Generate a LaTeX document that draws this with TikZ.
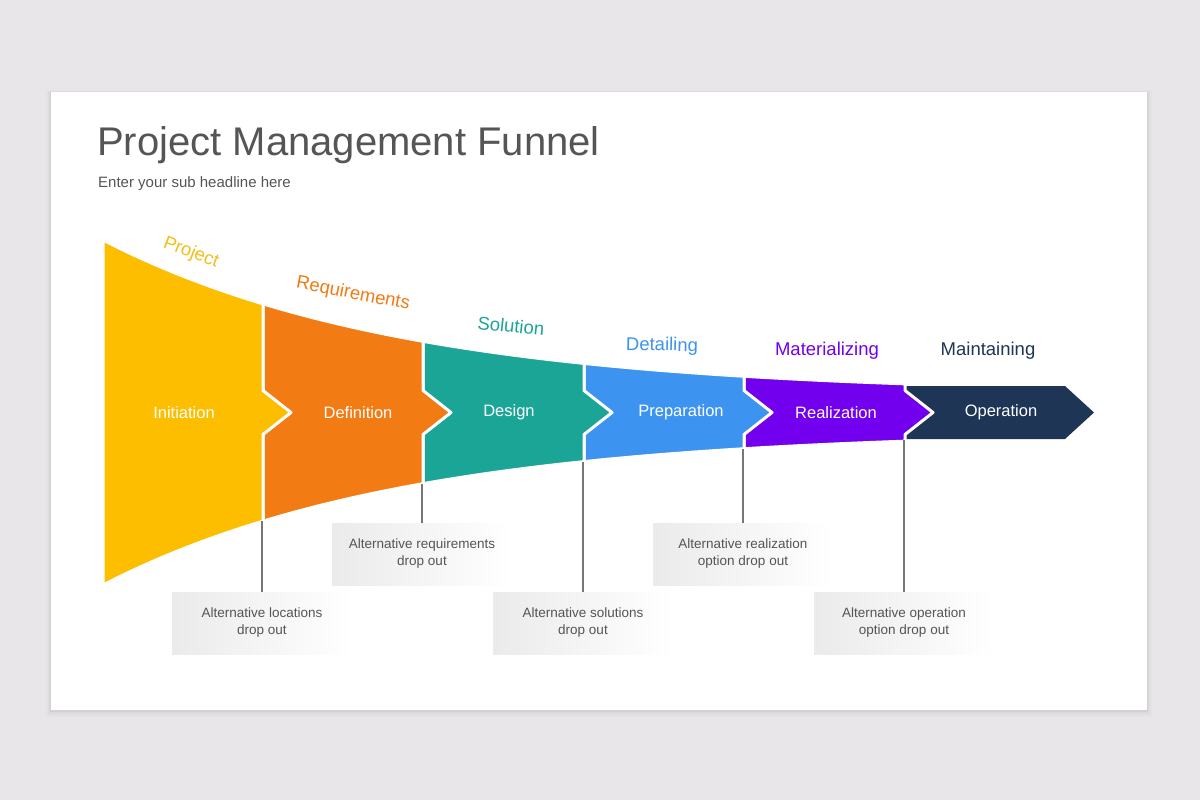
\documentclass[tikz,border=0pt]{standalone}
\usepackage{fontspec}
\setmainfont{Liberation Sans}
\definecolor{bgc}{HTML}{E8E6E8}
\definecolor{cyel}{HTML}{FEBE00}
\definecolor{cora}{HTML}{F27B13}
\definecolor{cteal}{HTML}{1BA597}
\definecolor{cblue}{HTML}{3D94F0}
\definecolor{cpurp}{HTML}{7200EE}
\definecolor{cnavy}{HTML}{1F3556}
\definecolor{ctext}{HTML}{555555}
\definecolor{cline}{HTML}{777777}
\definecolor{lyel}{HTML}{F2BE1A}
\begin{document}
\begin{tikzpicture}[x=1pt,y=-1pt,
  declare function={ftop(\x)=412.5-18-154.5*exp(-(\x-103)/300);
                    fbot(\x)=412.5+18+154.5*exp(-(\x-103)/300);},
  seglabel/.style={text=white,font=\fontsize{16.5}{20}\selectfont,inner sep=0pt},
  toplabel/.style={font=\fontsize{18.5}{22}\selectfont,inner sep=0pt},
  dropbox/.style={minimum width=180pt,minimum height=62pt,inner sep=0pt,
     left color=black!8,right color=white,text=ctext,align=center,
     font=\fontsize{13.5}{17}\selectfont},
  conn/.style={draw=cline,line width=1.5pt}]
\useasboundingbox (0,0) rectangle (1200,800);
\fill[bgc] (0,0) rectangle (1200,800);
% card shadow (soft)
\fill[black,opacity=0.015] (46,90) rectangle (1152,717);
\fill[black,opacity=0.02] (48,91) rectangle (1150,715);
\fill[black,opacity=0.025] (49,92) rectangle (1149,713);
\fill[black,opacity=0.03] (50,92) rectangle (1148,711.5);
\fill[white] (51,92) rectangle (1147,710);
% title
\node[anchor=base west,inner sep=0pt,text=ctext,font=\fontsize{40}{48}\selectfont] (title) at (97,155) {Project Management Funnel};
\node[anchor=base west,inner sep=0pt,text=ctext,font=\fontsize{15}{18}\selectfont] (sub) at (98,187) {Enter your sub headline here};
% segments
\newcommand\funseg[3]{%
  \path[fill=#1,draw=white,line width=3pt,line join=round]
    (#2,{ftop(#2)}) -- plot[domain=#2:#3,samples=30] (\x,{ftop(\x)})
    -- (#3,390.5) -- ({#3+28},412.5) -- (#3,434.5)
    -- plot[domain=#3:#2,samples=30] (\x,{fbot(\x)}) -- cycle;}
\path[fill=cnavy] (905,386) -- (1065,386) -- (1094,412.5) -- (1065,439) -- (905,439) -- cycle;
\funseg{cpurp}{744}{905}
\funseg{cblue}{584}{744}
\funseg{cteal}{423}{584}
\funseg{cora}{263}{423}
\funseg{cyel}{103}{263}
% segment labels
\node[seglabel] (s1) at (184,412.5) {Initiation};
\node[seglabel] (s2) at (358,412.5) {Definition};
\node[seglabel] (s3) at (509,412.5) {Design};
\node[seglabel] (s4) at (681,412.5) {Preparation};
\node[seglabel] (s5) at (836,412.5) {Realization};
\node[seglabel] (s6) at (1001,412.5) {Operation};
% top labels
\node[toplabel,text=lyel,rotate=-21] (t1) at (191,253) {Project};
\node[toplabel,text=cora,rotate=-11] (t2) at (353,294) {Requirements};
\node[toplabel,text=cteal,rotate=-6] (t3) at (511,326) {Solution};
\node[toplabel,text=cblue,rotate=-1] (t4) at (662,346) {Detailing};
\node[toplabel,text=cpurp] (t5) at (827,351) {Materializing};
\node[toplabel,text=cnavy] (t6) at (988,351) {Maintaining};
% drop out boxes
\node[dropbox] (b1) at (262,623) {Alternative locations\\drop out};
\node[dropbox] (b2) at (422,554) {Alternative requirements\\drop out};
\node[dropbox] (b3) at (583,623) {Alternative solutions\\drop out};
\node[dropbox] (b4) at (743,554) {Alternative realization\\option drop out};
\node[dropbox] (b5) at (904,623) {Alternative operation\\option drop out};
\coordinate (c1) at (262,{fbot(262)});
\coordinate (c2) at (422,{fbot(422)});
\coordinate (c3) at (583,{fbot(583)});
\coordinate (c4) at (743,{fbot(743)});
\coordinate (c5) at (904,440);
\draw[conn] (c1) -- (b1.north);
\draw[conn] (c2) -- (b2.north);
\draw[conn] (c3) -- (b3.north);
\draw[conn] (c4) -- (b4.north);
\draw[conn] (c5) -- (b5.north);
\end{tikzpicture}
\end{document}
